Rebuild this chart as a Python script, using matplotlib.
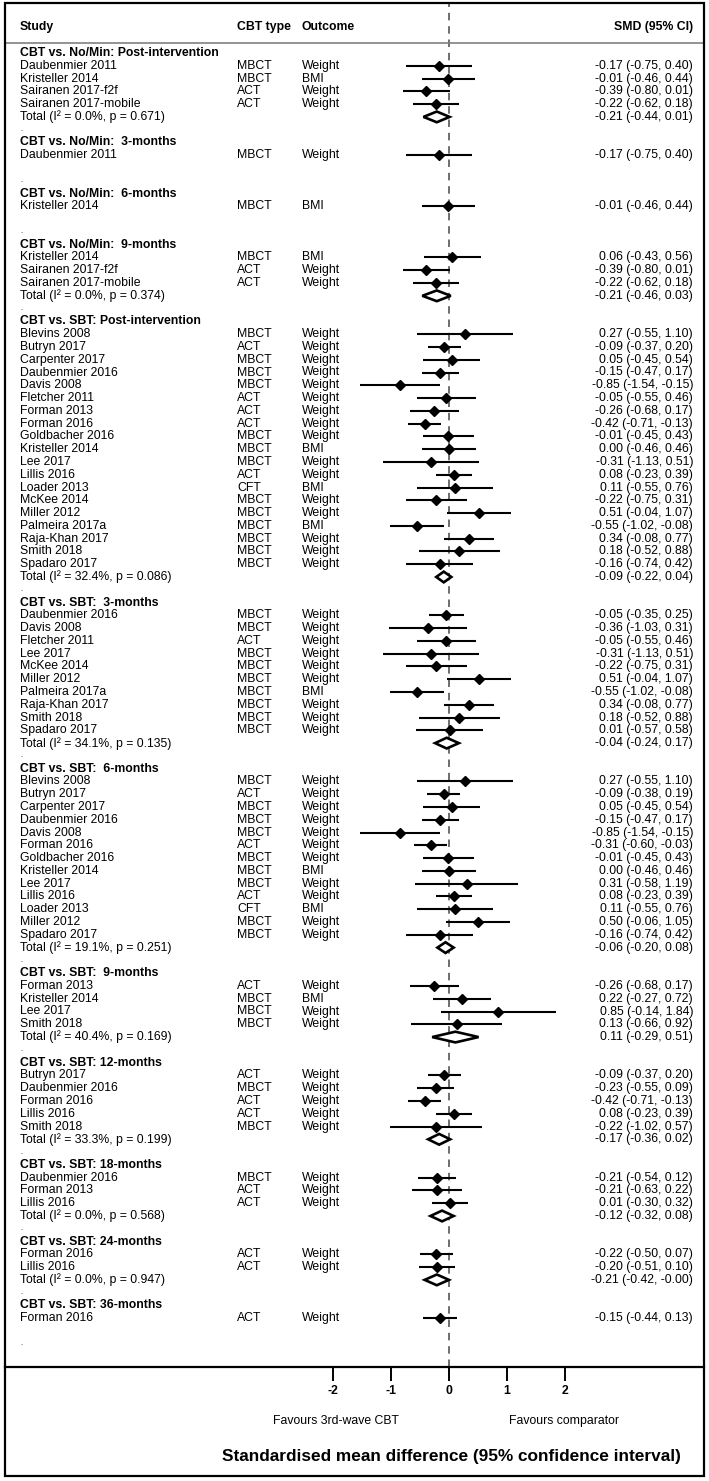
import matplotlib
matplotlib.use("Agg")
import matplotlib.pyplot as plt
from matplotlib.patches import Polygon, Rectangle

plt.rcParams['font.family'] = ['Liberation Sans', 'DejaVu Sans']

# ---------------- data ----------------
group_titles = [
    "CBT vs. No/Min: Post-intervention",
    "CBT vs. No/Min:  3-months",
    "CBT vs. No/Min:  6-months",
    "CBT vs. No/Min:  9-months",
    "CBT vs. SBT: Post-intervention",
    "CBT vs. SBT:  3-months",
    "CBT vs. SBT:  6-months",
    "CBT vs. SBT:  9-months",
    "CBT vs. SBT: 12-months",
    "CBT vs. SBT: 18-months",
    "CBT vs. SBT: 24-months",
    "CBT vs. SBT: 36-months",
]

study_group = ([0] * 4 + [1] + [2] + [3] * 3 + [4] * 19 + [5] * 10 + [6] * 13
               + [7] * 4 + [8] * 5 + [9] * 3 + [10] * 2 + [11])

study_names = [
    "Daubenmier 2011", "Kristeller 2014", "Sairanen 2017-f2f", "Sairanen 2017-mobile",
    "Daubenmier 2011",
    "Kristeller 2014",
    "Kristeller 2014", "Sairanen 2017-f2f", "Sairanen 2017-mobile",
    "Blevins 2008", "Butryn 2017", "Carpenter 2017", "Daubenmier 2016", "Davis 2008",
    "Fletcher 2011", "Forman 2013", "Forman 2016", "Goldbacher 2016", "Kristeller 2014",
    "Lee 2017", "Lillis 2016", "Loader 2013", "McKee 2014", "Miller 2012",
    "Palmeira 2017a", "Raja-Khan 2017", "Smith 2018", "Spadaro 2017",
    "Daubenmier 2016", "Davis 2008", "Fletcher 2011", "Lee 2017", "McKee 2014",
    "Miller 2012", "Palmeira 2017a", "Raja-Khan 2017", "Smith 2018", "Spadaro 2017",
    "Blevins 2008", "Butryn 2017", "Carpenter 2017", "Daubenmier 2016", "Davis 2008",
    "Forman 2016", "Goldbacher 2016", "Kristeller 2014", "Lee 2017", "Lillis 2016",
    "Loader 2013", "Miller 2012", "Spadaro 2017",
    "Forman 2013", "Kristeller 2014", "Lee 2017", "Smith 2018",
    "Butryn 2017", "Daubenmier 2016", "Forman 2016", "Lillis 2016", "Smith 2018",
    "Daubenmier 2016", "Forman 2013", "Lillis 2016",
    "Forman 2016", "Lillis 2016",
    "Forman 2016",
]

cbt_type = [
    "MBCT", "MBCT", "ACT", "ACT",
    "MBCT",
    "MBCT",
    "MBCT", "ACT", "ACT",
    "MBCT", "ACT", "MBCT", "MBCT", "MBCT", "ACT", "ACT", "ACT", "MBCT", "MBCT",
    "MBCT", "ACT", "CFT", "MBCT", "MBCT", "MBCT", "MBCT", "MBCT", "MBCT",
    "MBCT", "MBCT", "ACT", "MBCT", "MBCT", "MBCT", "MBCT", "MBCT", "MBCT", "MBCT",
    "MBCT", "ACT", "MBCT", "MBCT", "MBCT", "ACT", "MBCT", "MBCT", "MBCT", "ACT",
    "CFT", "MBCT", "MBCT",
    "ACT", "MBCT", "MBCT", "MBCT",
    "ACT", "MBCT", "ACT", "ACT", "MBCT",
    "MBCT", "ACT", "ACT",
    "ACT", "ACT",
    "ACT",
]

outcome = [
    "Weight", "BMI", "Weight", "Weight",
    "Weight",
    "BMI",
    "BMI", "Weight", "Weight",
    "Weight", "Weight", "Weight", "Weight", "Weight", "Weight", "Weight", "Weight",
    "Weight", "BMI", "Weight", "Weight", "BMI", "Weight", "Weight", "BMI", "Weight",
    "Weight", "Weight",
    "Weight", "Weight", "Weight", "Weight", "Weight", "Weight", "BMI", "Weight",
    "Weight", "Weight",
    "Weight", "Weight", "Weight", "Weight", "Weight", "Weight", "Weight", "BMI",
    "Weight", "Weight", "BMI", "Weight", "Weight",
    "Weight", "BMI", "Weight", "Weight",
    "Weight", "Weight", "Weight", "Weight", "Weight",
    "Weight", "Weight", "Weight",
    "Weight", "Weight",
    "Weight",
]

smd = [
    -0.17, -0.01, -0.39, -0.22,
    -0.17,
    -0.01,
    0.06, -0.39, -0.22,
    0.27, -0.09, 0.05, -0.15, -0.85, -0.05, -0.26, -0.42, -0.01, 0.00,
    -0.31, 0.08, 0.11, -0.22, 0.51, -0.55, 0.34, 0.18, -0.16,
    -0.05, -0.36, -0.05, -0.31, -0.22, 0.51, -0.55, 0.34, 0.18, 0.01,
    0.27, -0.09, 0.05, -0.15, -0.85, -0.31, -0.01, 0.00, 0.31, 0.08, 0.11, 0.50, -0.16,
    -0.26, 0.22, 0.85, 0.13,
    -0.09, -0.23, -0.42, 0.08, -0.22,
    -0.21, -0.21, 0.01,
    -0.22, -0.20,
    -0.15,
]

ci_low = [
    -0.75, -0.46, -0.80, -0.62,
    -0.75,
    -0.46,
    -0.43, -0.80, -0.62,
    -0.55, -0.37, -0.45, -0.47, -1.54, -0.55, -0.68, -0.71, -0.45, -0.46,
    -1.13, -0.23, -0.55, -0.75, -0.04, -1.02, -0.08, -0.52, -0.74,
    -0.35, -1.03, -0.55, -1.13, -0.75, -0.04, -1.02, -0.08, -0.52, -0.57,
    -0.55, -0.38, -0.45, -0.47, -1.54, -0.60, -0.45, -0.46, -0.58, -0.23, -0.55, -0.06, -0.74,
    -0.68, -0.27, -0.14, -0.66,
    -0.37, -0.55, -0.71, -0.23, -1.02,
    -0.54, -0.63, -0.30,
    -0.50, -0.51,
    -0.44,
]

ci_high = [
    0.40, 0.44, 0.01, 0.18,
    0.40,
    0.44,
    0.56, 0.01, 0.18,
    1.10, 0.20, 0.54, 0.17, -0.15, 0.46, 0.17, -0.13, 0.43, 0.46,
    0.51, 0.39, 0.76, 0.31, 1.07, -0.08, 0.77, 0.88, 0.42,
    0.25, 0.31, 0.46, 0.51, 0.31, 1.07, -0.08, 0.77, 0.88, 0.58,
    1.10, 0.19, 0.54, 0.17, -0.15, -0.03, 0.43, 0.46, 1.19, 0.39, 0.76, 1.05, 0.42,
    0.17, 0.72, 1.84, 0.92,
    0.20, 0.09, -0.13, 0.39, 0.57,
    0.12, 0.22, 0.32,
    0.07, 0.10,
    0.13,
]

# pooled estimates per group (None = no pooled row)
total_i2 = [0.0, None, None, 0.0, 32.4, 34.1, 19.1, 40.4, 33.3, 0.0, 0.0, None]
total_p = [0.671, None, None, 0.374, 0.086, 0.135, 0.251, 0.169, 0.199, 0.568, 0.947, None]
total_smd = [-0.21, None, None, -0.21, -0.09, -0.04, -0.06, 0.11, -0.17, -0.12, -0.21, None]
total_low = [-0.44, None, None, -0.46, -0.22, -0.24, -0.20, -0.29, -0.36, -0.32, -0.42, None]
total_high = [0.01, None, None, 0.03, 0.04, 0.17, 0.08, 0.51, 0.02, 0.08, -0.001, None]

x_ticks = [-2, -1, 0, 1, 2]

# ---------------- layout ----------------
W, H = 709, 1481
X0, PXU = 449.0, 58.0          # pixel of SMD=0, pixels per SMD unit
ROW0, ROWH = 53.0, 12.78       # pixel of first row, row height
AXIS_Y = 1367.0
LEFT, RIGHT, TOP, BOTTOM = 4.5, 704.0, 3.0, 1476.0
FS = 8.8


def xd(px):
    return (px - X0) / PXU


def rd(py):
    return (py - ROW0) / ROWH


def fmt(v):
    return f"{v:.2f}"


fig = plt.figure(figsize=(W / 100, H / 100), dpi=100)
fig.patch.set_facecolor('white')
ax = fig.add_axes([LEFT / W, 1 - AXIS_Y / H, (RIGHT - LEFT) / W, (AXIS_Y - TOP) / H])
ax.set_xlim(xd(LEFT), xd(RIGHT))
ax.set_ylim(rd(AXIS_Y), rd(TOP))
for s in ['top', 'left', 'right']:
    ax.spines[s].set_visible(False)
ax.spines['bottom'].set_linewidth(1.6)
ax.set_yticks([])
ax.set_xticks(x_ticks)
ax.set_xticklabels([str(t) for t in x_ticks], fontsize=FS, fontweight='bold')
ax.tick_params(axis='x', direction='out', length=10, width=1.4, pad=3)
ax.set_facecolor('none')

# column header
hy = rd(27)
ax.text(xd(20), hy, "Study", ha='left', va='center', fontsize=FS, fontweight='bold')
ax.text(xd(237), hy, "CBT type", ha='left', va='center', fontsize=FS, fontweight='bold')
ax.text(xd(302), hy, "Outcome", ha='left', va='center', fontsize=FS, fontweight='bold')
ax.text(xd(693), hy, "SMD (95% CI)", ha='right', va='center', fontsize=FS, fontweight='bold')
ax.axhline(rd(42.5), color='#808080', lw=1.2)

# zero line
ax.plot([0, 0], [rd(AXIS_Y), rd(TOP)], color='#555555', lw=1.2,
        dashes=(4.5, 3.5), zorder=1)

r = 0
for g, title in enumerate(group_titles):
    ax.text(xd(20), r, title, ha='left', va='center', fontsize=FS, fontweight='bold')
    r += 1
    for i in range(len(study_names)):
        if study_group[i] != g:
            continue
        ax.text(xd(20), r, study_names[i], ha='left', va='center', fontsize=FS)
        ax.text(xd(237), r, cbt_type[i], ha='left', va='center', fontsize=FS)
        ax.text(xd(302), r, outcome[i], ha='left', va='center', fontsize=FS)
        ax.text(xd(693), r, f"{fmt(smd[i])} ({fmt(ci_low[i])}, {fmt(ci_high[i])})",
                ha='right', va='center', fontsize=FS)
        ax.plot([ci_low[i], ci_high[i]], [r, r], color='black', lw=1.5,
                solid_capstyle='butt', zorder=3)
        ax.plot([smd[i]], [r], marker='D', color='black', markersize=4.8, zorder=4)
        r += 1
    if total_smd[g] is not None:
        ax.text(xd(20), r,
                f"Total (I\u00b2 = {total_i2[g]:.1f}%, p = {total_p[g]:.3f})",
                ha='left', va='center', fontsize=FS)
        ax.text(xd(693), r,
                f"{fmt(total_smd[g])} ({fmt(total_low[g])}, {fmt(total_high[g])})",
                ha='right', va='center', fontsize=FS)
        hh = 0.42
        poly = Polygon([[total_low[g], r], [total_smd[g], r - hh],
                        [total_high[g], r], [total_smd[g], r + hh]],
                       closed=True, facecolor='white', edgecolor='black', lw=1.9,
                       joinstyle='miter', zorder=4)
        ax.add_patch(poly)
    r += 1
    ax.text(xd(20), r, ".", ha='left', va='center', fontsize=FS * 0.6)
    r += 1

# bottom texts
fig.text(336 / W, 1 - 1421 / H, "Favours 3rd-wave CBT", ha='center', va='center', fontsize=FS)
fig.text(564 / W, 1 - 1421 / H, "Favours comparator", ha='center', va='center', fontsize=FS)
fig.text(451 / W, 1 - 1456 / H, "Standardised mean difference (95% confidence interval)",
         ha='center', va='center', fontsize=12.4, fontweight='bold')

# outer frame
fig.patches.append(Rectangle((LEFT / W, 1 - BOTTOM / H), (RIGHT - LEFT) / W, (BOTTOM - TOP) / H,
                             transform=fig.transFigure, fill=False, lw=1.6,
                             edgecolor='black'))

fig.savefig("out.png", dpi=100)
